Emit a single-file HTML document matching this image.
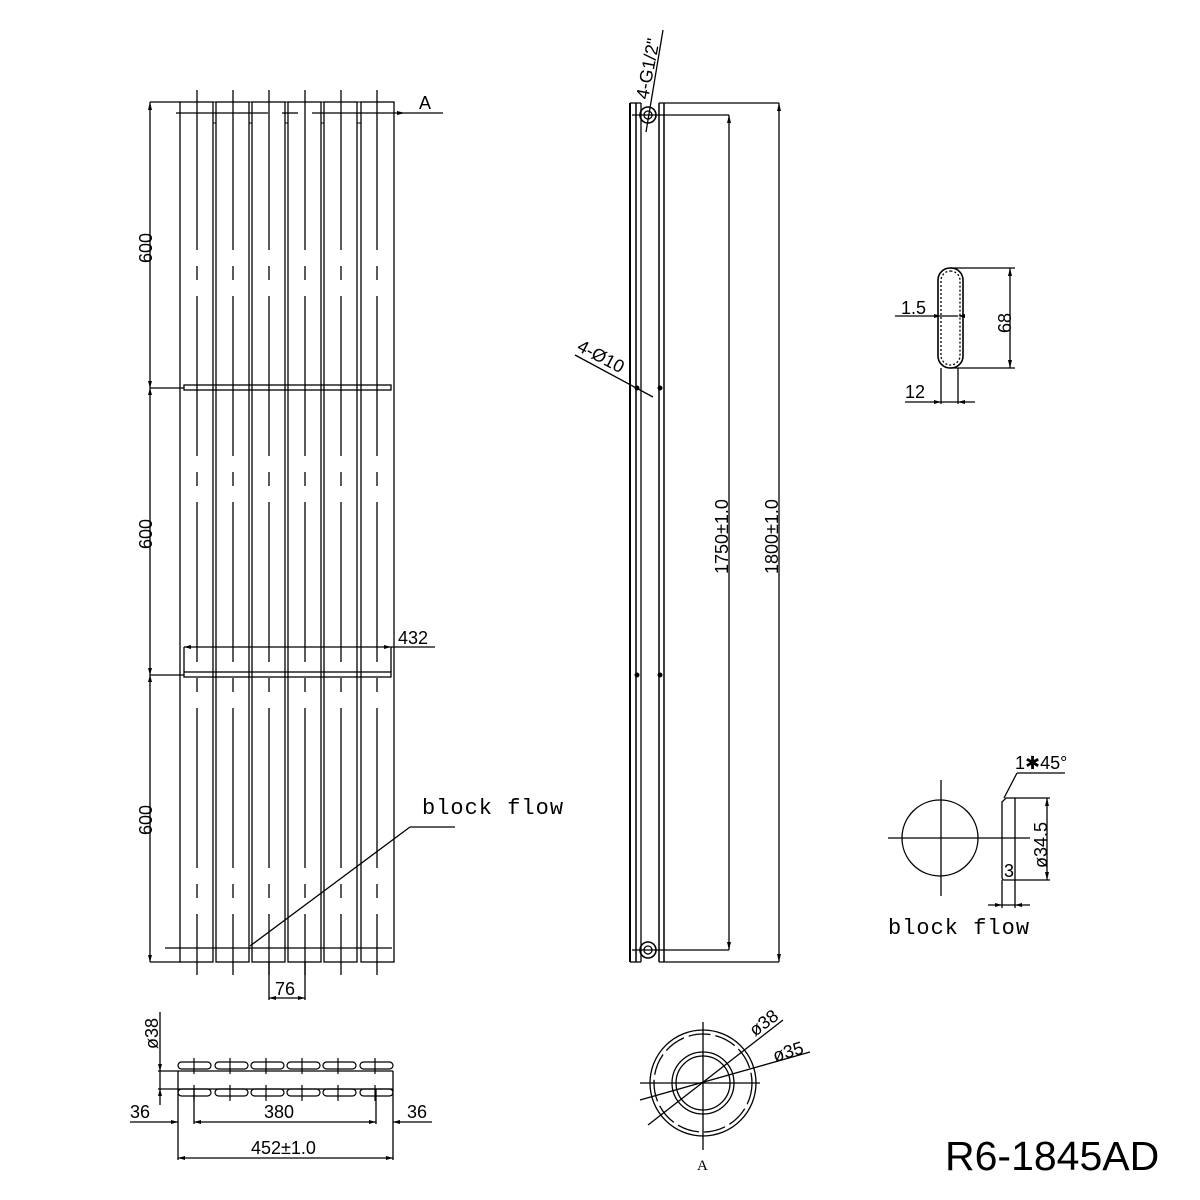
<!DOCTYPE html>
<html><head><meta charset="utf-8"><style>body{margin:0;background:#fff}svg{display:block}</style></head><body>
<svg width="1200" height="1200" viewBox="0 0 1200 1200" xmlns="http://www.w3.org/2000/svg" font-family="Liberation Sans, sans-serif">
<rect width="1200" height="1200" fill="#fff"/>
<g stroke="#000" stroke-width="1.3" fill="none">
<rect x="180" y="102" width="33" height="860"/><rect x="216" y="102" width="33" height="860"/>
<rect x="252" y="102" width="33" height="860"/><rect x="288" y="102" width="33" height="860"/>
<rect x="324" y="102" width="33" height="860"/><rect x="361" y="102" width="33" height="860"/>
<g stroke-width="1">
<rect x="213" y="102" width="3" height="21"/><rect x="249" y="102" width="3" height="21"/><rect x="285" y="102" width="3" height="21"/><rect x="321" y="102" width="3" height="21"/><rect x="357" y="102" width="4" height="21"/>
</g>
<g stroke-dasharray="160 16 14 16">
<line x1="197" y1="90" x2="197" y2="975"/><line x1="233" y1="90" x2="233" y2="975"/><line x1="269" y1="90" x2="269" y2="975"/><line x1="305" y1="90" x2="305" y2="975"/><line x1="341" y1="90" x2="341" y2="975"/><line x1="377" y1="90" x2="377" y2="975"/>
</g>
<line x1="176" y1="113" x2="268" y2="113"/><line x1="282" y1="113" x2="298" y2="113"/><line x1="312" y1="113" x2="405" y2="113"/><line x1="405" y1="113" x2="443" y2="113"/>
<line x1="150" y1="102" x2="180" y2="102"/>
<line x1="150" y1="102" x2="150" y2="962"/>
<line x1="150" y1="388" x2="184" y2="388"/><line x1="150" y1="675" x2="184" y2="675"/><line x1="150" y1="962" x2="180" y2="962"/>
<rect x="184" y="385" width="207" height="5"/>
<rect x="184" y="672" width="207" height="5"/>
<line x1="184" y1="647" x2="184" y2="672"/><line x1="391" y1="647" x2="391" y2="672"/>
<line x1="184" y1="647" x2="391" y2="647"/><line x1="391" y1="647" x2="435" y2="647"/>
<line x1="165" y1="948" x2="392" y2="948"/>
<line x1="250" y1="946" x2="410" y2="827"/><line x1="410" y1="827" x2="455" y2="827"/>
<line x1="269" y1="962" x2="269" y2="1000"/><line x1="305" y1="962" x2="305" y2="1000"/><line x1="269" y1="998" x2="305" y2="998"/>
<g stroke-width="1.2">
<rect x="178" y="1062" width="33" height="7" rx="3.5"/><rect x="215" y="1062" width="33" height="7" rx="3.5"/><rect x="251" y="1062" width="33" height="7" rx="3.5"/><rect x="287" y="1062" width="33" height="7" rx="3.5"/><rect x="323" y="1062" width="33" height="7" rx="3.5"/><rect x="360" y="1062" width="33" height="7" rx="3.5"/>
<rect x="178" y="1089" width="33" height="7" rx="3.5"/><rect x="215" y="1089" width="33" height="7" rx="3.5"/><rect x="251" y="1089" width="33" height="7" rx="3.5"/><rect x="287" y="1089" width="33" height="7" rx="3.5"/><rect x="323" y="1089" width="33" height="7" rx="3.5"/><rect x="360" y="1089" width="33" height="7" rx="3.5"/>
<path d="M194 1058v16M230 1058v16M266 1058v16M302 1058v16M338 1058v16M375 1058v16M194 1085v16M230 1085v16M266 1085v16M302 1085v16M338 1085v16M375 1085v16"/>
</g>
<line x1="158" y1="1071" x2="393" y2="1071"/><line x1="158" y1="1089" x2="393" y2="1089"/>
<line x1="160" y1="1012" x2="160" y2="1105"/>
<line x1="178" y1="1071" x2="178" y2="1160"/><line x1="393" y1="1071" x2="393" y2="1160"/>
<line x1="194" y1="1089" x2="194" y2="1124"/><line x1="376" y1="1089" x2="376" y2="1124"/>
<line x1="130" y1="1122" x2="178" y2="1122"/><line x1="194" y1="1122" x2="376" y2="1122"/><line x1="393" y1="1122" x2="432" y2="1122"/>
<line x1="178" y1="1158" x2="393" y2="1158"/>
<line x1="630" y1="103" x2="630" y2="962" stroke-width="2"/><line x1="636" y1="103" x2="636" y2="962" stroke-width="1.5"/>
<line x1="641" y1="103" x2="641" y2="962"/><line x1="659" y1="103" x2="659" y2="962" stroke-width="1.5"/><line x1="664" y1="103" x2="664" y2="962" stroke-width="1.5"/>
<line x1="630" y1="103" x2="641" y2="103"/><line x1="659" y1="103" x2="779" y2="103"/>
<line x1="630" y1="962" x2="641" y2="962"/><line x1="659" y1="962" x2="779" y2="962"/>
<line x1="779" y1="103" x2="779" y2="962"/>
<line x1="632" y1="115" x2="729" y2="115"/><line x1="632" y1="950" x2="729" y2="950"/>
<line x1="729" y1="115" x2="729" y2="950"/>
<circle cx="648" cy="115" r="8" stroke-width="1.6"/><circle cx="648" cy="115" r="4"/>
<circle cx="648" cy="950" r="8" stroke-width="1.6"/><circle cx="648" cy="950" r="4"/>
<line x1="646" y1="132" x2="663" y2="30"/>
<line x1="575" y1="355" x2="653" y2="397"/>
<rect x="938" y="268" width="25" height="100" rx="12" stroke-width="1.6"/>
<rect x="941" y="271" width="19" height="94" rx="9.5" stroke-dasharray="2 2"/>
<line x1="950" y1="268" x2="1015" y2="268"/><line x1="950" y1="368" x2="1015" y2="368"/>
<line x1="1010" y1="268" x2="1010" y2="368"/>
<line x1="895" y1="316" x2="958" y2="316"/>
<line x1="941" y1="368" x2="941" y2="404"/><line x1="958" y1="368" x2="958" y2="404"/>
<line x1="905" y1="402" x2="975" y2="402"/>
<circle cx="940" cy="838" r="38"/>
<line x1="888" y1="838" x2="1030" y2="838"/><line x1="941" y1="780" x2="941" y2="896"/>
<path d="M1006 798h9v82h-11q-2 0-2-3v-75z"/>
<line x1="1015" y1="798" x2="1050" y2="798"/><line x1="1015" y1="880" x2="1050" y2="880"/>
<line x1="1047" y1="798" x2="1047" y2="880"/>
<line x1="1002" y1="880" x2="1002" y2="908"/><line x1="1015" y1="880" x2="1015" y2="908"/>
<line x1="988" y1="905" x2="1030" y2="905"/>
<line x1="1004" y1="798" x2="1017" y2="773"/><line x1="1017" y1="773" x2="1065" y2="773"/>
<circle cx="703" cy="1083" r="53"/><circle cx="703" cy="1083" r="49" stroke-dasharray="22 5"/>
<circle cx="703" cy="1083" r="31"/><circle cx="703" cy="1083" r="27"/>
<line x1="640" y1="1083" x2="760" y2="1083"/><line x1="703" y1="1022" x2="703" y2="1150"/>
<line x1="648" y1="1125" x2="783" y2="1020"/><line x1="640" y1="1100" x2="810" y2="1052"/>
</g>
<g fill="#000">
<path d="M405 113l-8-2v4z"/><path d="M150 102l-2 8h4z"/><path d="M150 388l-2-7h4zM150 388l-2 7h4zM150 675l-2-7h4zM150 675l-2 7h4zM150 962l-2-7h4z"/>
<path d="M184 647l7-2v4zM391 647l-7-2v4z"/>
<path d="M269 998l7-2v4zM305 998l-7-2v4z"/>
<path d="M160 1071l-2-7h4zM160 1089l-2 7h4z"/>
<path d="M178 1122l-7-2v4zM194 1122l7-2v4zM376 1122l-7-2v4zM393 1122l7-2v4zM178 1158l7-2v4zM393 1158l-7-2v4z"/>
<path d="M729 115l-2 8h4zM729 950l-2-8h4zM779 103l-2 8h4zM779 962l-2-8h4z"/>
<circle cx="637" cy="388" r="2.5"/><circle cx="660" cy="388" r="2.5"/><circle cx="637" cy="675" r="2.5"/><circle cx="660" cy="675" r="2.5"/>
<path d="M1010 268l-2 8h4zM1010 368l-2-8h4zM941 316l-7-2v4zM958 316l7-2v4zM941 402l-7-2v4zM958 402l7-2v4z"/>
<path d="M1047 798l-2 8h4zM1047 880l-2-8h4zM1002 905l-7-2v4zM1015 905l7-2v4z"/>
</g>
<g fill="#000" font-size="18">
<text x="419" y="109">A</text>
<text transform="translate(152,263) rotate(-90)">600</text>
<text transform="translate(152,549) rotate(-90)">600</text>
<text transform="translate(152,835) rotate(-90)">600</text>
<text x="398" y="644">432</text>
<text x="275" y="995">76</text>
<text transform="translate(158,1049) rotate(-90)">ø38</text>
<text x="130" y="1118">36</text>
<text x="264" y="1118">380</text>
<text x="407" y="1118">36</text>
<text x="251" y="1154">452±1.0</text>
<text transform="translate(648,100) rotate(-79)">4-G1/2"</text>
<text transform="translate(576,350) rotate(28)">4-Ø10</text>
<text transform="translate(728,574) rotate(-90)">1750±1.0</text>
<text transform="translate(778,574) rotate(-90)">1800±1.0</text>
<text x="901" y="314">1.5</text>
<text transform="translate(1011,333) rotate(-90)">68</text>
<text x="905" y="398">12</text>
<text x="1015" y="769">1✱45°</text>
<text transform="translate(1047,868) rotate(-90)">ø34.5</text>
<text x="1004" y="877">3</text>
<text transform="translate(755,1037) rotate(-37)">ø38</text>
<text transform="translate(775,1062) rotate(-17)">ø35</text>
</g>
<g fill="#000" font-family="Liberation Mono, monospace" font-size="22" letter-spacing="1">
<text x="422" y="814">block  flow</text>
<text x="888" y="934">block  flow</text>
</g>
<text x="697" y="1170" font-family="Liberation Serif, serif" font-size="15" fill="#000">A</text>
<text x="945" y="1170" font-size="41" fill="#000">R6-1845AD</text>
</svg>
</body></html>
